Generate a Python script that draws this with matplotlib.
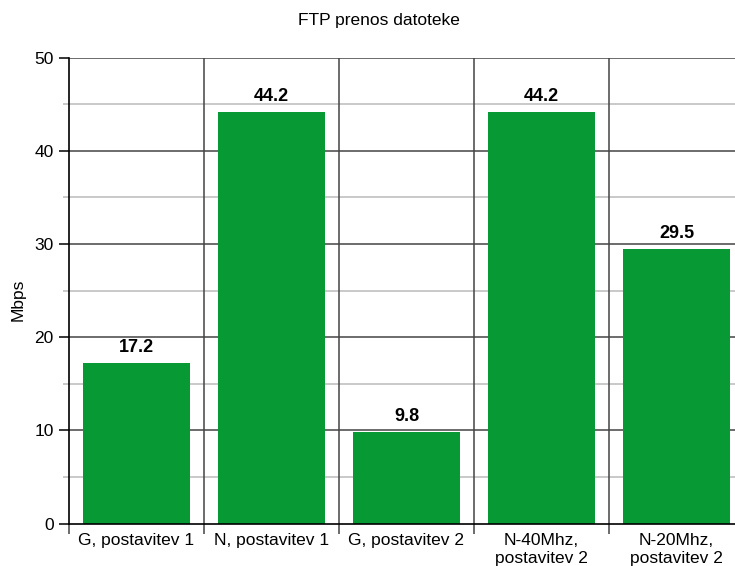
import matplotlib
matplotlib.use("Agg")
import matplotlib.pyplot as plt
import numpy as np

categories = ["G, postavitev 1", "N, postavitev 1", "G, postavitev 2",
              "N-40Mhz,\npostavitev 2", "N-20Mhz,\npostavitev 2"]
values = [17.2, 44.2, 9.8, 44.2, 29.5]
title = "FTP prenos datoteke"
ylabel = "Mbps"

plt.rcParams['font.family'] = ['Liberation Sans', 'DejaVu Sans']

fig = plt.figure(figsize=(7.35, 5.66), dpi=100)
ax = fig.add_axes([69/735, (566-523.5)/566, 675/735, (523.5-57.7)/566])

x = np.arange(len(categories))
green = "#069934"
ax.bar(x, values, width=0.79, color=green, zorder=3)
for xi, v in zip(x, values):
    ax.annotate(f"{v:.1f}", (xi, v), xytext=(0, 8), textcoords="offset points",
                ha="center", va="baseline", fontsize=13, fontweight="bold", zorder=4)

ax.set_xlim(-0.5, len(categories) - 0.5)
ax.set_ylim(0, 50)

# grid
for yv in range(10, 51, 10):
    ax.axhline(yv, color="#444444", lw=1.1, zorder=1)
for yv in range(5, 50, 10):
    ax.axhline(yv, color="#bbbbbb", lw=1.1, zorder=1)
for b in np.arange(0.5, len(categories) - 0.5, 1):
    ax.axvline(b, color="#444444", lw=1.1, zorder=1)

ax.set_yticks(range(0, 51, 10))
ax.set_yticks(range(5, 50, 10), minor=True)
ax.tick_params(axis="y", which="major", length=7, width=1.1, labelsize=12.5, direction="out", color="black", pad=4)
ax.tick_params(axis="y", which="minor", length=4, width=1.1, color="#bbbbbb")

ax.set_xticks(x)
ax.set_xticklabels(categories)
ax.set_xticks(np.arange(-0.5, len(categories), 1), minor=True)
ax.tick_params(axis="x", which="major", length=0, labelsize=12.5, pad=7)
ax.tick_params(axis="x", which="minor", length=7, width=1.1, color="#444444")
for lbl in ax.get_xticklabels():
    lbl.set_linespacing(1.2)

for s in ["top", "right"]:
    ax.spines[s].set_visible(False)
ax.spines["left"].set_linewidth(1.2)
ax.spines["bottom"].set_linewidth(1.2)
ax.spines["left"].set_zorder(5)
ax.spines["bottom"].set_zorder(5)

ax.set_ylabel(ylabel, fontsize=12.5)
ax.yaxis.set_label_coords((26 - 69) / 675, 0.48)
fig.text(379/735, 1 - 20/566, title, ha="center", va="center", fontsize=12.5)

fig.savefig("out.png", dpi=100)
